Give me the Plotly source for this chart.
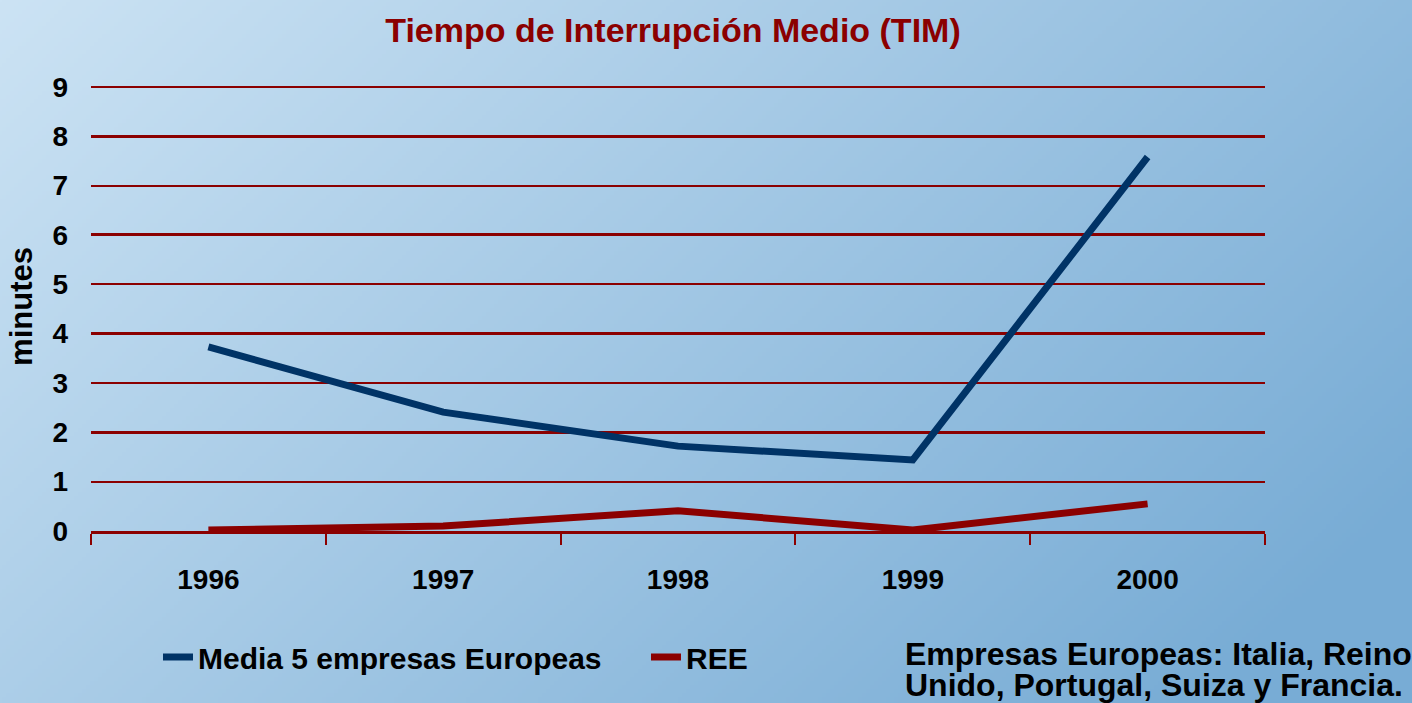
import base64, struct, zlib
import numpy as np
import plotly.graph_objects as go

years = ["1996", "1997", "1998", "1999", "2000"]
media_europeas = [3.73, 2.41, 1.72, 1.44, 7.58]
ree = [0.02, 0.10, 0.41, 0.02, 0.55]
y_ticks = [0, 1, 2, 3, 4, 5, 6, 7, 8, 9]
y_major = [0, 2, 4, 6, 8]
note_lines = ["Empresas Europeas: Italia, Reino", "Unido, Portugal, Suiza y Francia."]

W, H = 1412, 703
L, R, T, B = 91, 147, 82, 172
PW, PH = W - L - R, H - T - B
YMAX = 9.1

# background gradient image (light blue top-left -> deeper blue bottom-right)
def gradient_png(w, h):
    xs = np.linspace(0, 1, w)[None, :]
    ys = np.linspace(0, 1, h)[:, None]
    t = np.clip(0.72 * xs + 0.38 * ys, 0, 1)
    c0 = np.array([204, 227, 244], dtype=float)
    c1 = np.array([120, 172, 213], dtype=float)
    img = c0[None, None, :] * (1 - t[..., None]) + c1[None, None, :] * t[..., None]
    img = img.astype(np.uint8)
    raw = b"".join(b"\x00" + img[r].tobytes() for r in range(h))
    def chunk(tag, data):
        return struct.pack(">I", len(data)) + tag + data + struct.pack(">I", zlib.crc32(tag + data) & 0xffffffff)
    png = (b"\x89PNG\r\n\x1a\n" + chunk(b"IHDR", struct.pack(">IIBBBBB", w, h, 8, 2, 0, 0, 0))
           + chunk(b"IDAT", zlib.compress(raw, 9)) + chunk(b"IEND", b""))
    return "data:image/png;base64," + base64.b64encode(png).decode()

bg = gradient_png(W // 4, H // 4)

DARKRED = "#8b0000"
NAVY = "#003366"
FONT = "Liberation Sans"

fig = go.Figure()
fig.add_trace(go.Scatter(x=years, y=media_europeas, mode="lines", name="<b>Media 5 empresas Europeas</b>",
                         line=dict(color=NAVY, width=7)))
fig.add_trace(go.Scatter(x=years, y=ree, mode="lines", name="<b>REE</b>", yaxis="y2",
                         line=dict(color=DARKRED, width=7)))

annotations = []
for i, (line, yc) in enumerate(zip(note_lines, [654, 685])):
    annotations.append(dict(text=f"<b>{line}</b>", xref="paper", yref="paper",
                            x=(903 - L) / PW, y=-(yc - (H - B)) / PH,
                            xanchor="left", yanchor="middle", align="left", showarrow=False,
                            font=dict(family=FONT, size=32, color="black")))

fig.update_layout(
    width=W, height=H,
    paper_bgcolor="rgba(0,0,0,0)", plot_bgcolor="rgba(0,0,0,0)",
    margin=dict(l=L, r=R, t=T, b=B),
    images=[dict(source=bg, xref="paper", yref="paper", x=-L / PW, y=1 + T / PH,
                 sizex=W / PW, sizey=H / PH, sizing="stretch", layer="below",
                 xanchor="left", yanchor="top")],
    title=dict(text="<b>Tiempo de Interrupción Medio (TIM)</b>", x=673 / W, xanchor="center",
               xref="container", y=1 - 30 / H, yanchor="middle",
               font=dict(family=FONT, size=34, color=DARKRED)),
    xaxis=dict(type="category", range=[-0.5, 4.5], showgrid=False, showline=True, linecolor=DARKRED,
               linewidth=2.5, ticks="outside", tickson="boundaries", ticklen=11, tickcolor=DARKRED,
               tickwidth=2, tickvals=years, ticktext=[f"<b>{y}</b>" for y in years],
               tickfont=dict(family=FONT, size=28, color="black"), ticklabelstandoff=22),
    yaxis=dict(range=[0, YMAX], tickvals=y_ticks, ticktext=[f"<b>{v}</b>" for v in y_ticks],
               showgrid=True, gridcolor=DARKRED, gridwidth=1.5, zeroline=False, showline=False,
               ticks="", tickfont=dict(family=FONT, size=28, color="black"), ticklabelstandoff=22,
               title=dict(text="<b>minutes</b>", font=dict(family=FONT, size=31, color="black"), standoff=10)),
    yaxis2=dict(range=[0, YMAX], overlaying="y", side="left", tickvals=y_major, showticklabels=False,
                showgrid=True, gridcolor=DARKRED, gridwidth=2.5, zeroline=False, showline=False, ticks=""),
    legend=dict(orientation="h", x=(158 - L) / PW, y=-(657 - (H - B)) / PH, yanchor="middle",
                font=dict(family=FONT, size=30, color="black"), bgcolor="rgba(0,0,0,0)",
                tracegroupgap=0, entrywidth=443, entrywidthmode="pixels"),
    showlegend=True,
    annotations=annotations,
)
fig.write_html("out.html", config={"displayModeBar": False},
               post_script="document.body.style.margin='0';document.body.style.overflow='hidden';")
